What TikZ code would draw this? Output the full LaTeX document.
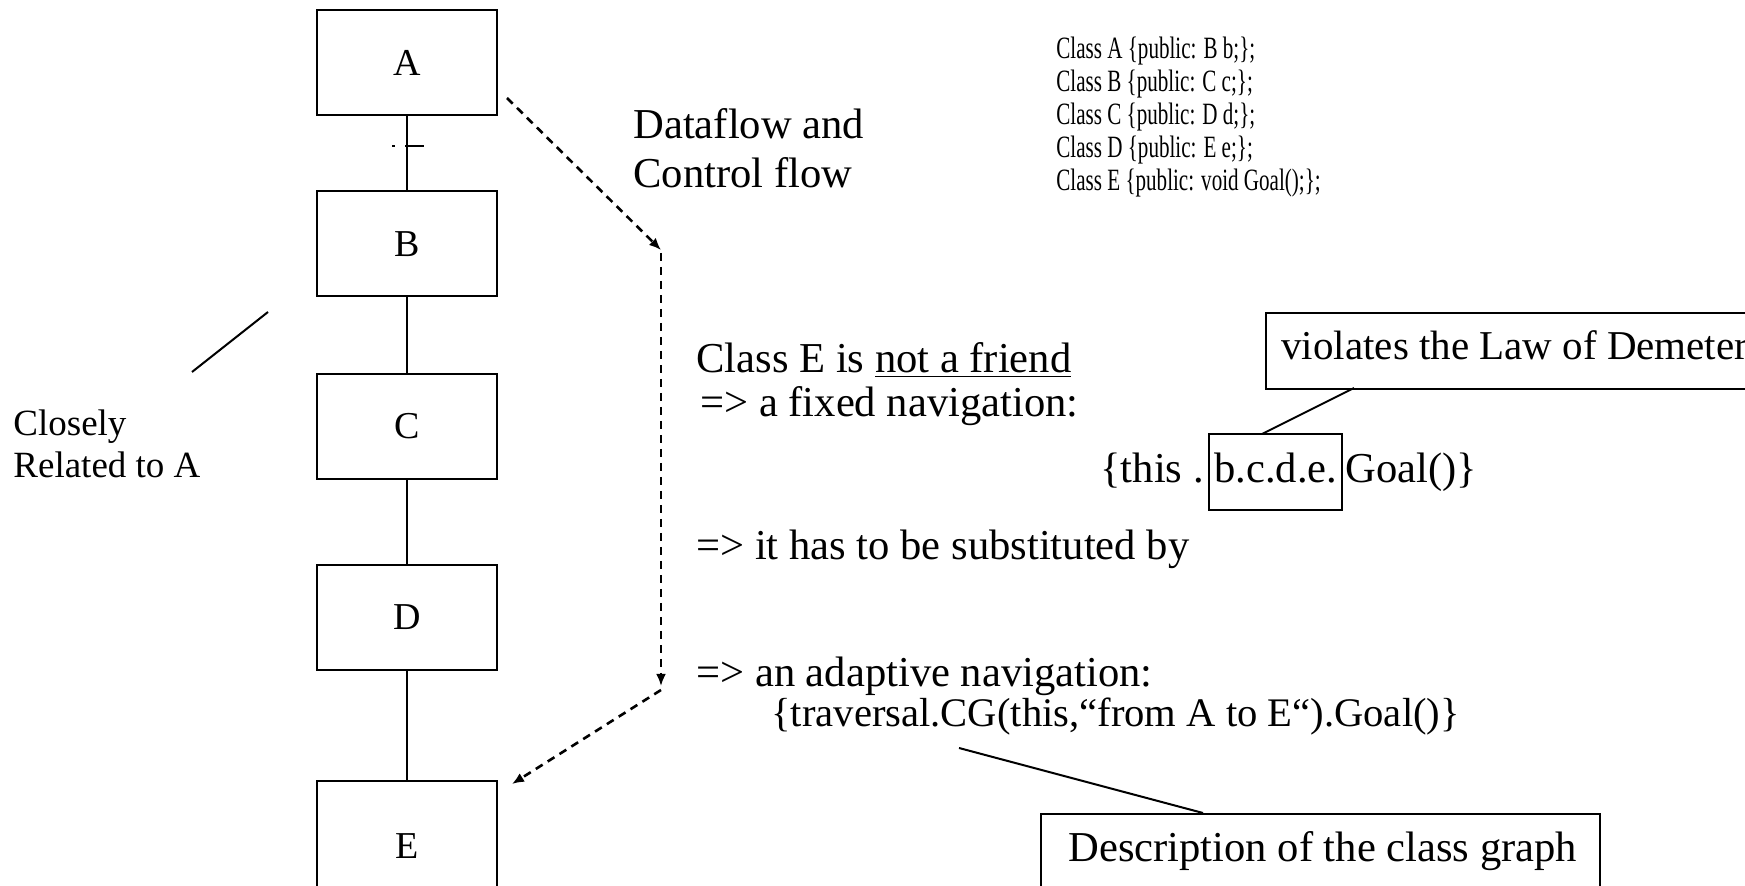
\documentclass[tikz,border=0pt]{standalone}
\usepackage{fontspec}
\setmainfont{Liberation Serif}
\usetikzlibrary{arrows.meta}
\begin{document}
\begin{tikzpicture}[x=0.5pt,y=-0.5pt,
  cls/.style={draw,line width=1pt,minimum width=90pt,minimum height=52.5pt,inner sep=0pt,font=\fontsize{19}{22}\selectfont},
  txt/.style={anchor=base west,inner sep=0pt,font=\fontsize{21.3}{25}\selectfont},
  small/.style={anchor=base west,inner sep=0pt,font=\fontsize{18.5}{22}\selectfont},
  code/.style={anchor=base west,inner sep=0pt,font=\fontsize{15.5}{18}\selectfont},
  callout/.style={draw,line width=1pt,inner sep=0pt},
  flow/.style={line width=1.3pt,dash pattern=on 4pt off 3pt,-{Latex[length=6pt,width=5pt]}},
  link/.style={line width=1pt},
]
\useasboundingbox (0,0) rectangle (1745,886);
\clip (0,0) rectangle (1745,886);

% class boxes
\node[cls] (A) at (407,62.5) {A};
\node[cls] (B) at (407,244) {B};
\node[cls] (C) at (407,426.5) {C};
\node[cls] (D) at (407,617.5) {D};
\node[cls,minimum height=65pt] (E) at (407,846) {E};
\draw[link] (A.south) -- (B.north);
\draw[link] (B.south) -- (C.north);
\draw[link] (C.south) -- (D.north);
\draw[link] (D.south) -- (E.north);
\draw[link] (405,146) -- (424,146);
\draw[link] (392,146) -- (395,146);

% dataflow arrows
\coordinate (f0) at (507,98);
\coordinate (f1) at (661,250);
\coordinate (f1b) at (661,253);
\coordinate (f2) at (661,686);
\coordinate (f2b) at (661,690);
\coordinate (f3) at (512,784);
\draw[flow] (f0) -- (f1);
\draw[flow] (f1b) -- (f2);
\draw[flow] (f2b) -- (f3);

\node[txt] (df1) at (633,139) {Dataflow and};
\node[txt] (df2) at (633,188) {Control flow};

% closely related
\coordinate (r0) at (192,372);
\coordinate (r1) at (268,312);
\draw[link] (r0) -- (r1);
\node[small] (cl1) at (13,436) {Closely};
\node[small] (cl2) at (13,478) {Related to A};

% code
\node[code] (c1) at (1056,59) {\scalebox{0.68}[1]{Class A \{public: B b;\};}};
\node[code] (c2) at (1056,92) {\scalebox{0.68}[1]{Class B \{public: C c;\};}};
\node[code] (c3) at (1056,125) {\scalebox{0.68}[1]{Class C \{public: D d;\};}};
\node[code] (c4) at (1056,158) {\scalebox{0.68}[1]{Class D \{public: E e;\};}};
\node[code] (c5) at (1056,191) {\scalebox{0.68}[1]{Class E \{public: void Goal();\};}};

% main text
\node[txt] (t1) at (696,373) {Class E is \underline{not a friend}};
\node[txt] (t2) at (700,417) {=> a fixed navigation:};
\node[txt] (t3) at (1100,483) {\{this .};
\node[callout,minimum width=66.5pt,minimum height=38pt,anchor=west] (bx) at (1208,472) {};
\node[txt] (t3b) at (1214,483) {b.c.d.e.};
\node[txt] (t3c) at (1345,483) {Goal()\}};
\node[txt] (t4) at (696,560) {=> it has to be substituted by};
\node[txt] (t5) at (696,687) {=> an adaptive navigation:};
\node[txt,font=\fontsize{20.3}{24}\selectfont] (t6) at (771,726) {\{traversal.CG(this,“from A to E“).Goal()\}};

% callouts
\node[callout,minimum width=250pt,minimum height=38pt,anchor=north west] (viol) at (1265,312) {};
\node[txt,font=\fontsize{20.5}{24}\selectfont] (violt) at (1281,360) {violates the Law of Demeter};
\coordinate (v0) at (1262,434);
\coordinate (v1) at (1354,388);
\draw[link] (v0) -- (v1);

\node[callout,minimum width=279.5pt,minimum height=45pt,anchor=north west] (desc) at (1040,813) {};
\node[txt] (desct) at (1068,861) {Description of the class graph};
\coordinate (d0) at (959,748);
\coordinate (d1) at (1203,813);
\draw[link] (d0) -- (d1);
\end{tikzpicture}
\end{document}
